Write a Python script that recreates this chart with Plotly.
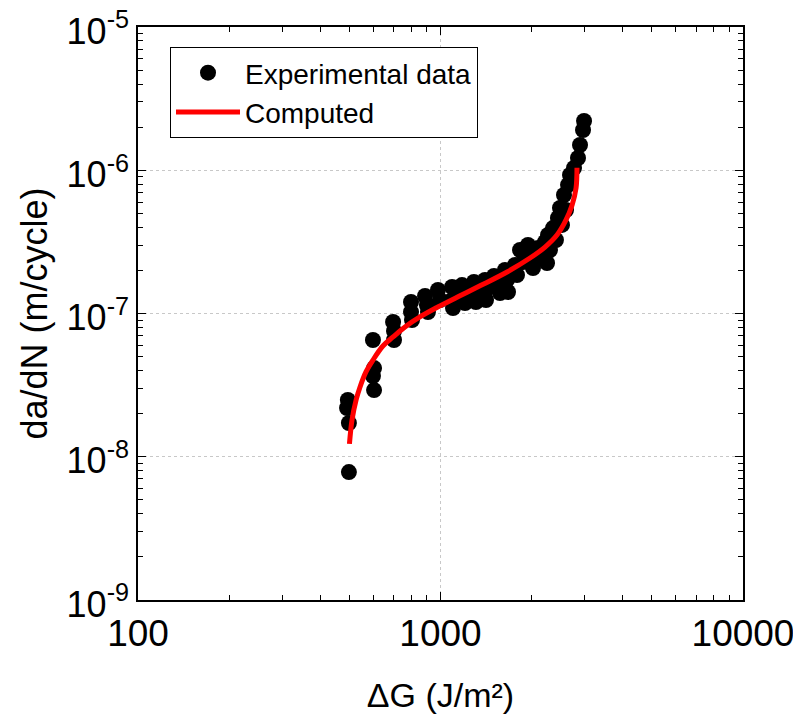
import plotly.graph_objects as go

# Experimental data: ΔG (J/m²) and da/dN (m/cycle)
exp_dG = [498, 494, 491, 498, 598, 603, 598, 603, 697, 702, 702,
          799, 799, 805, 889, 902, 909, 981, 996, 1092, 1092, 1100,
          1178, 1187, 1205, 1290, 1300, 1310, 1403, 1414, 1414, 1503,
          1514, 1573, 1672, 1634, 1659, 1764, 1790, 1832, 1874, 1946,
          1976, 2022, 2100, 2133, 2216, 2250, 2267, 2301, 2354, 2408,
          2445, 2483, 2521, 2560, 2600, 2640, 2680, 2763, 2848, 2892,
          2959, 2982]
exp_dadN = [7.82e-9, 2.49e-8, 2.19e-8, 1.72e-8, 6.53e-8, 4.16e-8, 3.66e-8, 2.92e-8,
            8.72e-8, 7.55e-8, 6.53e-8, 1.203e-7, 1.024e-7, 9.01e-8, 1.325e-7,
            1.147e-7, 1.024e-7, 1.459e-7, 1.242e-7, 1.531e-7, 1.242e-7, 1.092e-7,
            1.58e-7, 1.325e-7, 1.184e-7, 1.66e-7, 1.39e-7, 1.203e-7, 1.713e-7,
            1.459e-7, 1.242e-7, 1.827e-7, 1.556e-7, 1.39e-7, 1.413e-7, 2.012e-7,
            1.713e-7, 2.18e-7, 1.857e-7, 2.775e-7, 2.288e-7, 3.006e-7, 2.44e-7,
            2.078e-7, 2.865e-7, 2.44e-7, 3.155e-7, 2.252e-7, 3.53e-7, 2.775e-7,
            3.95e-7, 3.26e-7, 4.64e-7, 5.45e-7, 4.15e-7, 6.72e-7, 5.28e-7,
            7.89e-7, 9.26e-7, 1.037e-6, 1.218e-6, 1.501e-6, 1.91e-6, 2.207e-6]

# Computed curve
comp_dG = [500, 510, 526, 542, 567, 598, 645, 697, 763, 855, 996, 1160,
           1351, 1660, 1977, 2216, 2427, 2600, 2723, 2806, 2826]
comp_dadN = [1.23e-8, 1.81e-8, 2.49e-8, 3.07e-8, 3.91e-8, 4.73e-8, 5.93e-8,
             6.86e-8, 8.05e-8, 9.46e-8, 1.13e-7, 1.33e-7, 1.56e-7, 1.95e-7,
             2.44e-7, 2.91e-7, 3.53e-7, 4.50e-7, 5.72e-7, 7.52e-7, 1.04e-6]

x_tickvals = [100, 1000, 10000]
x_ticktext = ["100", "1000", "10000"]
y_tickvals = [1e-9, 1e-8, 1e-7, 1e-6, 1e-5]
y_ticktext = ["10<sup>-9</sup>", "10<sup>-8</sup>", "10<sup>-7</sup>",
              "10<sup>-6</sup>", "10<sup>-5</sup>"]
x_minor = [m * d for d in (100, 1000) for m in range(2, 10)]
y_minor = [m * d for d in (1e-9, 1e-8, 1e-7, 1e-6) for m in range(2, 10)]

FONT = "Liberation Sans, Arial, Helvetica, sans-serif"

fig = go.Figure()
fig.add_trace(go.Scatter(
    x=exp_dG, y=exp_dadN, mode="markers", name="Experimental data",
    marker=dict(color="black", size=16, line=dict(width=0)),
))
fig.add_trace(go.Scatter(
    x=comp_dG, y=comp_dadN, mode="lines", name="Computed",
    line=dict(color="#ff0000", width=5, shape="spline"),
))

axis_common = dict(
    type="log", automargin=False, ticklabeloverflow="allow",
    showline=True, linecolor="black", linewidth=1.5, mirror="allticks",
    ticks="inside", ticklen=8, tickwidth=1, tickcolor="black",
    showgrid=True, gridcolor="#c8c8c8", gridwidth=1, griddash="3px,3px",
    zeroline=False,
    minor=dict(ticks="inside", ticklen=5, tickwidth=1, tickcolor="black",
               showgrid=False),
)

fig.update_layout(
    width=801, height=722,
    margin=dict(l=130, r=66, t=19, b=130, autoexpand=False),
    paper_bgcolor="white", plot_bgcolor="white",
    font=dict(family=FONT, color="black"),
    showlegend=True,
    legend=dict(
        x=(170 - 138) / 605, y=(600 - 47) / 573, xanchor="left", yanchor="top",
        bordercolor="black", borderwidth=1, bgcolor="white",
        font=dict(family=FONT, size=28, color="black"),
        itemwidth=64, tracegroupgap=0,
    ),
)
fig.update_xaxes(
    **axis_common, range=[2, 4],
    tickfont=dict(family=FONT, size=37, color="black"),
    tickvals=x_tickvals, ticktext=x_ticktext,
    title=dict(text="ΔG (J/m²)", font=dict(family=FONT, size=34), standoff=30),
)
fig.update_xaxes(minor_tickvals=x_minor)
fig.update_yaxes(
    **axis_common, range=[-9, -5],
    tickfont=dict(family=FONT, size=36, color="black"),
    ticklabelshift=4,
    tickvals=y_tickvals, ticktext=y_ticktext,
    title=dict(text="da/dN (m/cycle)", font=dict(family=FONT, size=36), standoff=8),
)
fig.update_yaxes(minor_tickvals=y_minor)

fig.write_html("out.html")
